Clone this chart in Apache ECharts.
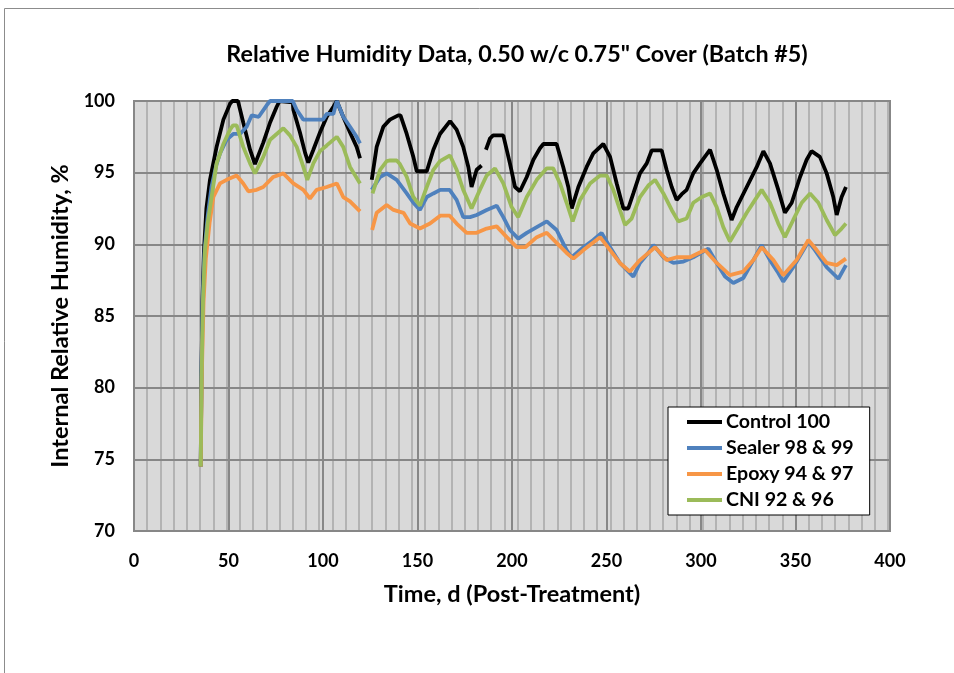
<!DOCTYPE html>
<html>
<head>
<meta charset="utf-8">
<script src="https://cdn.jsdelivr.net/npm/echarts@6/dist/echarts.min.js"></script>
<style>html,body{margin:0;padding:0;background:#fff;}#c{width:954px;height:673px;}</style>
</head>
<body>
<div id="c"></div>
<script>
var seriesNames = ['Control 100', 'Sealer 98 & 99', 'Epoxy 94 & 97', 'CNI 92 & 96'];
var seriesColors = ['#000000', '#4f81bd', '#f79646', '#9bbb59'];
var xTicks = [0, 50, 100, 150, 200, 250, 300, 350, 400];
var yTicks = [70, 75, 80, 85, 90, 95, 100];

var controlData = [[35.3,74.5],[35.7,81],[36.2,86],[37,89.5],[38.3,92.5],[40.2,94.5],[43.7,96.8],[47.3,98.7],[50.8,99.8],[52,100],[55,100],[57.8,98.5],[61.4,96.6],[64,95.6],[68.4,97.1],[72,98.5],[75.5,99.6],[77,100],[84,99.9],[84.3,99.4],[87.8,97.8],[90.5,96.4],[92.2,95.7],[94.9,96.6],[98.4,97.8],[102,98.9],[105.5,99.6],[107.3,100],[110.7,98.9],[114.3,97.8],[117.8,96.8],[119.6,96.0],[122,null],[125.8,94.5],[128.4,96.8],[131.9,98.2],[135.4,98.7],[139.8,99.0],[141,99.0],[144.3,97.7],[147.8,96.1],[149.6,95.1],[154.9,95.1],[158.4,96.6],[161.9,97.7],[167.2,98.6],[170.7,98.0],[174.2,96.8],[176.9,95.4],[178.6,94.0],[181.3,95.2],[183.9,95.5],[185,null],[186.2,96.6],[188.4,97.4],[190,97.6],[195.4,97.6],[198.9,95.65],[201.6,94.0],[204.2,93.7],[207.8,94.7],[211.3,95.9],[214.8,96.7],[216.6,97.0],[223.6,97.0],[227.1,95.4],[229.8,94.0],[231.6,92.5],[235.1,94.0],[239.5,95.4],[243,96.35],[248.3,97.0],[251.9,96.1],[255.4,94.25],[258.9,92.5],[261.5,92.5],[264.2,93.55],[267.7,94.95],[271.3,95.65],[273.9,96.55],[279.2,96.55],[281.8,95.2],[284.5,94.0],[287.1,93.1],[289.8,93.5],[292.4,93.8],[295.9,94.95],[299.5,95.65],[304.8,96.6],[308.3,95.2],[311.8,93.55],[316.2,91.7],[318.9,92.6],[324.2,94.0],[329.5,95.4],[333,96.5],[336.5,95.65],[340.9,93.8],[344.4,92.2],[348,92.9],[352.4,94.7],[355.9,95.9],[358.5,96.5],[362.9,96.1],[366.5,94.95],[370,93.3],[371.8,92.05],[374.4,93.3],[376.7,94.0]];

var sealerData = [[35.3,74.5],[35.7,81],[36.3,86],[37.3,89.5],[39,92],[41,94],[43.5,95.5],[45.5,96.35],[49,97.3],[52.5,97.7],[56.1,97.7],[59.6,98.2],[62.3,99.0],[66,98.9],[70.2,99.7],[72,100],[84,100],[86,99.4],[89.6,98.7],[95,98.7],[100,98.7],[102,99.1],[105.5,99.1],[107.3,100],[110.7,98.9],[114.3,98.2],[117.8,97.5],[119.6,97.05],[122,null],[125.8,93.8],[130.2,94.7],[133.7,94.95],[139,94.5],[144.3,93.55],[147.8,92.9],[151.3,92.4],[154.9,93.3],[158.4,93.55],[162,93.8],[167,93.8],[170.7,93.1],[174.2,91.9],[177.8,91.9],[181.3,92.05],[186.6,92.4],[191.9,92.7],[195.4,91.9],[198.9,91.0],[203.3,90.4],[207.8,90.8],[213.1,91.2],[218.4,91.6],[223.6,91.0],[228.9,89.6],[231.6,89.1],[237.8,89.8],[243,90.3],[247.4,90.8],[251.9,89.8],[257.1,88.7],[264.2,87.75],[267.7,88.7],[272.1,89.4],[274.8,89.95],[280.1,89.1],[285.4,88.7],[290.7,88.8],[295.9,89.1],[303.9,89.7],[308.3,88.7],[312.7,87.75],[317.1,87.3],[322.4,87.65],[327.7,88.9],[332.1,89.95],[336.5,88.9],[340.9,88.0],[343.5,87.4],[348.8,88.4],[354.2,89.6],[356.8,90.2],[360.3,89.6],[366.5,88.4],[372.7,87.6],[376.7,88.55]];

var epoxyData = [[35.3,74.5],[35.9,81],[36.8,86],[38,89],[40,91.5],[42,93.3],[45.5,94.25],[49,94.5],[54.3,94.8],[57.8,94.25],[60.5,93.7],[64.9,93.8],[68.4,94.0],[73.7,94.7],[79,94.95],[84.3,94.25],[89.6,93.8],[93.1,93.2],[96.6,93.8],[102,94.0],[107.3,94.25],[110.7,93.3],[114.3,93.0],[119.6,92.3],[122,null],[126,91.0],[128.4,92.2],[133.7,92.75],[137.3,92.4],[142.6,92.2],[146.1,91.45],[151.3,91.1],[156.6,91.45],[162,92.0],[167,92.0],[170.7,91.45],[176,90.8],[181.3,90.8],[186.6,91.1],[191.9,91.25],[197.2,90.5],[202.5,89.8],[207,89.8],[213.1,90.5],[218.4,90.8],[223.6,90.1],[228.9,89.4],[232.5,89.0],[237.8,89.6],[246.6,90.5],[251.9,89.6],[257.1,88.7],[262.4,88.1],[267.7,88.9],[275.7,89.8],[281.8,88.9],[287.1,89.1],[294.2,89.1],[302.1,89.6],[308.3,88.7],[315.3,87.85],[322.4,88.1],[327.7,88.9],[332.1,89.8],[338.3,88.9],[343.5,87.85],[350.6,88.9],[356.8,90.3],[361.2,89.6],[366.5,88.7],[371.8,88.55],[376.7,89.0]];

var cniData = [[35.3,74.5],[35.8,81],[36.5,86],[37.5,89.5],[39,91.5],[40.5,92.8],[43.7,95.65],[47.3,97.0],[50.8,98.0],[52.4,98.3],[54.3,98.3],[57.8,96.8],[61.4,95.65],[64,94.95],[68.4,96.1],[72,97.3],[75.5,97.7],[79,98.1],[82.5,97.6],[86.1,96.8],[89.6,95.4],[91.7,94.5],[94.9,95.65],[98.4,96.5],[102,96.9],[107.3,97.5],[110.7,96.8],[114.3,95.4],[119.6,94.25],[122,null],[126.2,93.55],[130.2,95.2],[133.7,95.8],[135.5,95.85],[139,95.85],[140.7,95.6],[144.3,94.7],[147.8,93.3],[151.3,92.7],[154.9,94.0],[158.4,95.2],[161.9,95.8],[167.2,96.2],[170.7,95.2],[174.2,93.8],[178.6,92.5],[183,93.8],[186.6,94.8],[191,95.3],[195.4,94.25],[199.8,92.6],[203.3,91.9],[207.8,93.3],[213.1,94.5],[218.4,95.3],[221.8,95.3],[225.4,94.25],[228.9,92.9],[232.1,91.6],[236,93.1],[241.3,94.25],[246.6,94.8],[250.1,94.8],[253.6,93.8],[257.1,92.4],[259.8,91.35],[263.3,91.8],[267.7,93.3],[272.1,94.1],[275.7,94.5],[280.1,93.55],[284.5,92.4],[288,91.6],[292.4,91.8],[295.9,92.9],[300.4,93.3],[304.8,93.55],[308.3,92.6],[311.8,91.2],[315.3,90.2],[318.9,91.0],[324.2,92.2],[328.6,93.1],[332.1,93.8],[336.5,92.9],[340.9,91.45],[344.4,90.5],[348.8,91.7],[353.3,92.9],[357.7,93.55],[362.1,92.9],[366.5,91.7],[370.9,90.65],[374.4,91.1],[376.7,91.45]];

var allData = [controlData, sealerData, epoxyData, cniData];
var FONT = 'Lato';

var chart = echarts.init(document.getElementById('c'), null, {renderer: 'canvas'});
var option = {
  animation: false,
  backgroundColor: '#ffffff',
  title: {
    text: 'Relative Humidity Data, 0.50 w/c 0.75" Cover (Batch #5)',
    left: 512, top: 38, textAlign: 'center',
    textStyle: {fontFamily: FONT, fontWeight: 'bold', fontSize: 23.3, color: '#000'}
  },
  graphic: [{
    type: 'rect', silent: true, z: -10,
    shape: {x: 4.5, y: 8.5, width: 1000, height: 1000},
    style: {fill: 'none', stroke: '#8c8c8c', lineWidth: 1}
  }],
  grid: {
    left: 134, top: 101, right: 64, bottom: 142,
    show: true, backgroundColor: '#d9d9d9', borderColor: '#868686', borderWidth: 2
  },
  legend: {
    orient: 'vertical', left: 668, top: 407,
    backgroundColor: '#ffffff', borderColor: '#000000', borderWidth: 1,
    padding: [5, 16, 5, 19], itemGap: 6, itemWidth: 35, itemHeight: 4,
    icon: 'rect',
    data: seriesNames,
    textStyle: {fontFamily: FONT, fontWeight: 'bold', fontSize: 19.6, color: '#000', lineHeight: 20, padding: [0,0,0,-1]}
  },
  xAxis: [{
    type: 'value', min: 0, max: 400, interval: 50, z: 3,
    name: 'Time, d (Post-Treatment)', nameLocation: 'middle', nameGap: 51,
    nameTextStyle: {fontFamily: FONT, fontWeight: 'bold', fontSize: 23.5, color: '#000'},
    axisLine: {show: false}, axisTick: {show: false},
    axisLabel: {fontFamily: FONT, fontWeight: 'bold', fontSize: 18, color: '#000', margin: 21,
      formatter: function (v) { return xTicks.indexOf(v) >= 0 ? String(v) : ''; }},
    splitLine: {show: true, lineStyle: {color: '#878787', width: 2}}
  }, {
    type: 'value', min: 0, max: 400, interval: 7, z: 1,
    axisLine: {show: false}, axisTick: {show: false}, axisLabel: {show: false},
    splitLine: {show: true, lineStyle: {color: '#b3b3b3', width: 2}}
  }],
  yAxis: {
    type: 'value', min: 70, max: 100, interval: 5, z: 3,
    name: 'Internal Relative Humidity, %', nameLocation: 'middle', nameGap: 60,
    nameTextStyle: {fontFamily: FONT, fontWeight: 'bold', fontSize: 23.5, color: '#000'},
    axisLine: {show: false}, axisTick: {show: false},
    axisLabel: {fontFamily: FONT, fontWeight: 'bold', fontSize: 18, color: '#000', margin: 19,
      formatter: function (v) { return yTicks.indexOf(v) >= 0 ? String(v) : ''; }},
    splitLine: {show: true, lineStyle: {color: '#878787', width: 2}}
  },
  series: seriesNames.map(function (n, i) {
    return {
      name: n, type: 'line', data: allData[i], showSymbol: false, symbol: 'none',
      connectNulls: false, z: 10 + i,
      lineStyle: {color: seriesColors[i], width: 3.8},
      itemStyle: {color: seriesColors[i]}
    };
  })
};
chart.setOption(option);
</script>
</body>
</html>
